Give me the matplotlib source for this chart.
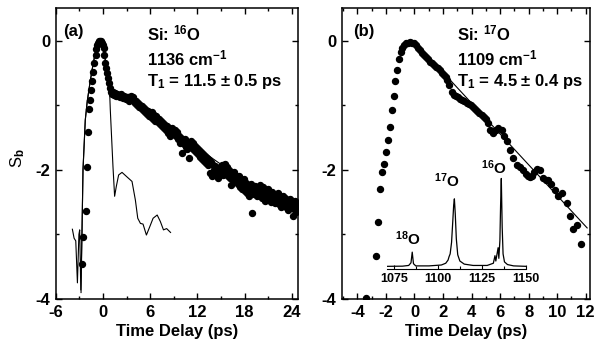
import numpy as np
import matplotlib
matplotlib.use("Agg")
import matplotlib.pyplot as plt
from matplotlib.ticker import MultipleLocator

plt.rcParams['font.family'] = ['Liberation Sans', 'DejaVu Sans']
plt.rcParams['font.weight'] = 'bold'
plt.rcParams['axes.unicode_minus'] = False
plt.rcParams['mathtext.fontset'] = 'custom'
plt.rcParams['mathtext.rm'] = 'Liberation Sans:bold'
plt.rcParams['mathtext.it'] = 'Liberation Sans:bold'
plt.rcParams['mathtext.bf'] = 'Liberation Sans:bold'
plt.rcParams['mathtext.default'] = 'bf'

# ---- panel (a): Si:16O, 1136 cm-1 ----
# rise and peak
t_a_rise = [-2.68, -2.50, -2.13, -2.04, -1.84, -1.80, -1.62, -1.49, -1.33, -1.20,
            -1.07, -0.94, -0.82, -0.70, -0.58, -0.46, -0.34, -0.22, -0.10, 0.00,
            0.08, 0.20, 0.33, 0.42, 0.51, 0.62, 0.72, 0.85]
s_a_rise = [-3.46, -3.04, -2.64, -1.96, -1.42, -1.06, -0.92, -0.76, -0.63, -0.48,
            -0.35, -0.22, -0.13, -0.07, -0.03, -0.01, 0.00, -0.01, -0.03, -0.07,
            -0.12, -0.22, -0.35, -0.43, -0.50, -0.58, -0.66, -0.74]
# decay, delay steps of 0.125 ps from 1 ps
t_a_decay = np.arange(1.0, 25.0, 0.125)
s_a_decay = [
    -0.79, -0.82, -0.80, -0.84, -0.81, -0.86, -0.83, -0.85,
    -0.84, -0.87, -0.83, -0.86, -0.89, -0.85, -0.88, -0.90,
    -0.87, -0.91, -0.88, -0.93, -0.90, -0.86, -0.89, -0.87,
    -0.93, -0.96, -0.94, -1.00, -0.97, -1.03, -1.00, -1.05,
    -1.02, -1.08, -1.05, -1.11, -1.07, -1.13, -1.09, -1.16,
    -1.12, -1.18, -1.10, -1.21, -1.15, -1.24, -1.17, -1.20,
    -1.26, -1.21, -1.29, -1.24, -1.32, -1.27, -1.35, -1.30,
    -1.38, -1.32, -1.43, -1.36, -1.47, -1.40, -1.35, -1.39,
    -1.44, -1.38, -1.48, -1.42, -1.53, -1.47, -1.58, -1.50,
    -1.74, -1.54, -1.60, -1.52, -1.64, -1.57, -1.68, -1.60,
    -1.81, -1.62, -1.56, -1.66, -1.59, -1.70, -1.63, -1.73,
    -1.67, -1.76, -1.70, -1.80, -1.73, -1.83, -1.75, -1.86,
    -1.78, -1.89, -1.82, -1.93, -1.85, -2.05, -1.88, -2.10,
    -1.92, -2.01, -1.94, -2.06, -1.98, -2.12, -2.00, -1.95,
    -2.03, -1.93, -2.08, -1.98, -1.91, -2.04, -1.96, -2.09,
    -2.01, -2.12, -2.23, -2.06, -2.15, -2.04, -2.18, -2.09,
    -2.13, -2.22, -2.10, -2.26, -2.16, -2.29, -2.19, -2.14,
    -2.24, -2.33, -2.20, -2.36, -2.27, -2.40, -2.30, -2.22,
    -2.67, -2.29, -2.38, -2.25, -2.33, -2.41, -2.28, -2.35,
    -2.24, -2.31, -2.44, -2.27, -2.36, -2.48, -2.33, -2.40,
    -2.30, -2.43, -2.37, -2.50, -2.35, -2.45, -2.39, -2.52,
    -2.41, -2.47, -2.36, -2.53, -2.44, -2.58, -2.46, -2.40,
    -2.50, -2.43, -2.57, -2.47, -2.62, -2.51, -2.45, -2.59,
    -2.53, -2.72, -2.60, -2.49, -2.66, -2.55, -2.61, -2.52]

# fitted curve and cross-correlation trace, panel (a)
fit_t_a = [-2.78, -2.66, -2.53, -2.24, -2.00, -1.70, -1.40, -1.10, -0.80, -0.50,
           -0.30, -0.10, 0.10, 0.30, 0.50, 0.75, 1.00, 1.50, 2.00, 3.00,
           4.00, 6.00, 8.00, 10.0, 12.0, 14.0, 16.0, 18.0, 20.0, 22.0, 24.8]
fit_s_a = [-3.90, -2.98, -2.00, -1.23, -0.95, -0.70, -0.47, -0.27, -0.10, -0.02,
           0.00, -0.03, -0.12, -0.30, -0.50, -0.70, -0.80, -0.84, -0.86, -0.90,
           -0.96, -1.14, -1.31, -1.48, -1.65, -1.83, -2.00, -2.17, -2.32, -2.44, -2.58]
xc_t_a = [-3.88, -3.66, -3.45, -3.24, -3.05, -2.95, -2.81, -2.66, -2.53, -2.24,
          -2.00, -1.70, -1.40, -1.10, -0.80, -0.50, -0.30, -0.10, 0.10, 0.30,
          0.55, 0.80, 0.94, 1.28, 1.49, 1.70, 2.00, 2.43, 3.06, 3.70,
          4.13, 4.43, 4.77, 5.10, 5.53, 5.96, 6.38, 6.90, 7.30, 7.70,
          8.10, 8.60]
xc_s_a = [-2.92, -3.06, -3.10, -3.75, -3.00, -2.93, -3.86, -2.98, -2.00, -1.23,
          -0.95, -0.70, -0.47, -0.27, -0.10, -0.02, 0.00, -0.03, -0.12, -0.30,
          -0.48, -0.61, -1.07, -1.95, -2.41, -2.26, -2.08, -2.04, -2.11, -2.18,
          -2.47, -2.75, -2.83, -2.84, -3.01, -2.88, -2.75, -2.70, -2.80, -2.93,
          -2.91, -2.97]

# ---- panel (b): Si:17O, 1109 cm-1 ----
t_b = [-3.37, -2.69, -2.55, -2.41, -2.27, -2.15, -2.01, -1.87, -1.73, -1.61,
       -1.45, -1.33, -1.19, -1.08, -0.96, -0.84, -0.75, -0.61, -0.47, -0.33,
       -0.19, -0.05, 0.09, 0.23, 0.37, 0.51, 0.65, 0.79, 0.93, 1.07,
       1.21, 1.35, 1.49, 1.63, 1.77, 1.91, 2.05, 2.19, 2.29, 2.43,
       2.60, 2.76, 2.90, 3.05, 3.20, 3.35, 3.50, 3.65, 3.80, 3.95,
       4.10, 4.25, 4.40, 4.55, 4.70, 4.85, 5.00, 5.17, 5.28, 5.40,
       5.52, 5.70, 5.87, 6.10, 6.30, 6.46, 6.69, 6.92, 7.16, 7.39,
       7.62, 7.80, 7.97, 8.10, 8.21, 8.40, 8.56, 8.79, 9.02, 9.20,
       9.38, 9.60, 9.85, 10.08, 10.32, 10.67, 10.90, 11.13, 11.37, 11.65]
s_b = [-3.99, -3.33, -2.81, -2.29, -2.04, -1.91, -1.73, -1.54, -1.33, -1.07,
       -0.85, -0.63, -0.45, -0.29, -0.17, -0.12, -0.07, -0.04, -0.03, -0.02,
       -0.03, -0.04, -0.07, -0.11, -0.14, -0.19, -0.22, -0.25, -0.29, -0.33,
       -0.35, -0.38, -0.41, -0.43, -0.45, -0.50, -0.54, -0.57, -0.61, -0.69,
       -0.79, -0.84, -0.86, -0.88, -0.90, -0.92, -0.94, -0.96, -0.98, -1.00,
       -1.03, -1.06, -1.09, -1.12, -1.15, -1.18, -1.22, -1.28, -1.38, -1.40,
       -1.43, -1.38, -1.36, -1.38, -1.48, -1.56, -1.69, -1.82, -1.92, -1.95,
       -2.00, -2.06, -2.10, -2.11, -2.10, -2.03, -1.98, -2.00, -2.13, -2.16,
       -2.16, -2.22, -2.31, -2.41, -2.36, -2.52, -2.72, -2.92, -2.85, -3.15]
fit_t_b = [2.5, 12.1]
fit_s_b = [-0.61, -2.90]

# inset IR spectrum (cm-1, normalised absorbance)
spec_w = [1071.5, 1080.0, 1083.5, 1084.8, 1085.5, 1086.2, 1087.5, 1095.0, 1102.0, 1104.5,
          1105.8, 1106.4, 1107.0, 1107.8, 1108.5, 1109.0, 1109.4, 1109.9, 1110.5, 1111.3,
          1112.5, 1115.0, 1120.0, 1128.0, 1131.5, 1132.4, 1132.9, 1133.5, 1134.2, 1134.6,
          1135.2, 1135.6, 1136.0, 1136.5, 1137.0, 1137.8, 1139.5, 1143.0, 1150.0]
spec_a = [0.01, 0.012, 0.02, 0.05, 0.17, 0.04, 0.015, 0.015, 0.025, 0.045,
          0.08, 0.12, 0.15, 0.28, 0.52, 0.70, 0.77, 0.60, 0.32, 0.14,
          0.07, 0.035, 0.02, 0.02, 0.045, 0.13, 0.07, 0.14, 0.22, 0.10,
          0.30, 0.70, 1.00, 0.45, 0.15, 0.06, 0.03, 0.015, 0.01]

fig = plt.figure(figsize=(6.0, 3.45), dpi=100)
W, H = 600.0, 345.0
bot, top = 299.0, 8.3
ax1 = fig.add_axes([55.7 / W, 1 - bot / H, (298 - 55.7) / W, (bot - top) / H])
ax2 = fig.add_axes([341.7 / W, 1 - bot / H, (590 - 341.7) / W, (bot - top) / H])

for ax in (ax1, ax2):
    ax.set_ylim(-4, 0.5)
    ax.yaxis.set_major_locator(MultipleLocator(2))
    ax.yaxis.set_minor_locator(MultipleLocator(1))
    ax.tick_params(which='both', direction='in', top=True, right=True,
                   labelsize=12, width=1.0, pad=4)
    ax.tick_params(which='major', length=4)
    ax.tick_params(which='minor', length=2.5)
    for sp in ax.spines.values():
        sp.set_linewidth(1.1)
    ax.set_xlabel("Time Delay (ps)", fontsize=12, fontweight='bold', labelpad=3)

ax1.plot(t_a_rise, s_a_rise, 'o', color='black', markersize=4.3, zorder=3)
ax1.plot(t_a_decay, s_a_decay, 'o', color='black', markersize=4.3, zorder=3)
ax1.plot(fit_t_a, fit_s_a, '-', color='black', lw=0.8)
ax1.plot(xc_t_a, xc_s_a, '-', color='black', lw=0.8)
ax1.set_xlim(-6, 24.8)
ax1.xaxis.set_major_locator(MultipleLocator(6))
ax1.xaxis.set_minor_locator(MultipleLocator(3))
ax1.set_ylabel("S$_\\mathbf{b}$", fontsize=12)
ax1.yaxis.set_label_coords(-0.12, 0.485)

ax2.plot(t_b, s_b, 'o', color='black', markersize=4.3, zorder=3)
ax2.plot(fit_t_b, fit_s_b, '-', color='black', lw=0.8)
ax2.set_xlim(-5.1, 12.3)
ax2.xaxis.set_major_locator(MultipleLocator(2))
ax2.xaxis.set_minor_locator(MultipleLocator(1))

fs = 12
ax1.text(0.029, 0.905, "(a)", transform=ax1.transAxes, fontsize=fs)
ax1.text(0.376, 0.891, "Si: $^{16}$O", transform=ax1.transAxes, fontsize=fs)
ax1.text(0.376, 0.805, "1136 cm$^{-1}$", transform=ax1.transAxes, fontsize=fs)
ax1.text(0.376, 0.733, "T$_1$ = 11.5 ± 0.5 ps", transform=ax1.transAxes, fontsize=fs)
ax2.text(0.044, 0.905, "(b)", transform=ax2.transAxes, fontsize=fs)
ax2.text(0.463, 0.891, "Si: $^{17}$O", transform=ax2.transAxes, fontsize=fs)
ax2.text(0.463, 0.805, "1109 cm$^{-1}$", transform=ax2.transAxes, fontsize=fs)
ax2.text(0.463, 0.733, "T$_1$ = 4.5 ± 0.4 ps", transform=ax2.transAxes, fontsize=fs)

# inset spectrum
axi = fig.add_axes([387 / W, 1 - 269 / H, (526 - 387) / W, 95 / H])
axi.patch.set_alpha(0)
axi.plot(spec_w, spec_a, '-', color='black', lw=0.9)
axi.set_xlim(1071.2, 1150)
axi.set_ylim(-0.02, 1.05)
for k in ('left', 'right', 'top'):
    axi.spines[k].set_visible(False)
axi.spines['bottom'].set_linewidth(0.8)
axi.set_yticks([])
axi.xaxis.set_major_locator(MultipleLocator(25))
axi.xaxis.set_minor_locator(MultipleLocator(12.5))
axi.tick_params(axis='x', which='both', direction='in', labelsize=9, pad=3, width=0.8)
axi.tick_params(axis='x', which='major', length=3)
axi.tick_params(axis='x', which='minor', length=2)
axi.text(1083.0, 0.25, "$^{18}$O", fontsize=11, ha='center', clip_on=False)
axi.text(1105.0, 0.90, "$^{17}$O", fontsize=11, ha='center', clip_on=False)
axi.text(1131.5, 1.05, "$^{16}$O", fontsize=11, ha='center', clip_on=False)

fig.savefig("out.png", dpi=100)
